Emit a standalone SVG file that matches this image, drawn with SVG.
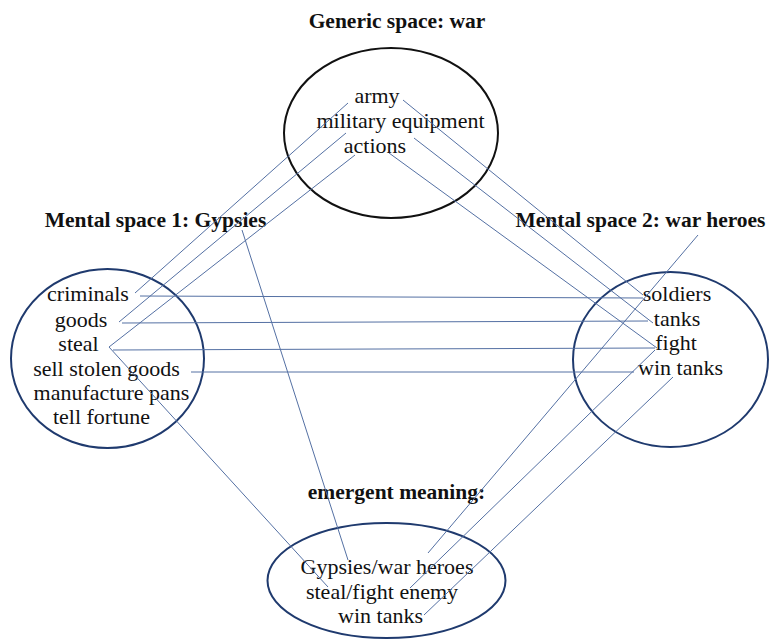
<svg xmlns="http://www.w3.org/2000/svg" width="772" height="639" viewBox="0 0 772 639">
<style>
.t{font-family:"Liberation Serif","Times New Roman",serif;font-size:22px;fill:#111;text-anchor:middle}
.b{font-family:"Liberation Serif","Times New Roman",serif;font-size:21.5px;font-weight:bold;fill:#111;text-anchor:middle}
.e{fill:none;stroke:#1f3a6e;stroke-width:2}
.k{fill:none;stroke:#111;stroke-width:2}
.c line{stroke:#5470a3;stroke-width:1}
</style>
<rect width="772" height="639" fill="#fff"/>
<g id="generic">
<ellipse class="k" cx="391" cy="133" rx="107" ry="85"/>
<text class="b" x="397" y="28">Generic space: war</text>
<text class="t" x="377" y="103">army</text>
<text class="t" x="400.5" y="128">military equipment</text>
<text class="t" x="375" y="153">actions</text>
</g>
<g id="space1">
<ellipse class="e" cx="107.5" cy="358.5" rx="96.5" ry="89.5"/>
<text class="b" x="155.5" y="227">Mental space 1: Gypsies</text>
<text class="t" x="88" y="301">criminals</text>
<text class="t" x="81" y="327">goods</text>
<text class="t" x="78.5" y="351">steal</text>
<text class="t" x="106.5" y="376">sell stolen goods</text>
<text class="t" x="111.5" y="400">manufacture pans</text>
<text class="t" x="101.5" y="424">tell fortune</text>
</g>
<g id="space2">
<ellipse class="e" cx="670.5" cy="359.5" rx="97.5" ry="87.5"/>
<text class="b" x="640.5" y="227">Mental space 2: war heroes</text>
<text class="t" x="677" y="301">soldiers</text>
<text class="t" x="677" y="326">tanks</text>
<text class="t" x="676" y="350">fight</text>
<text class="t" x="680.5" y="375">win tanks</text>
</g>
<g id="emergent">
<ellipse class="e" cx="386.5" cy="580.5" rx="119" ry="57.5"/>
<text class="b" x="396.5" y="499">emergent meaning:</text>
<text class="t" x="387" y="574">Gypsies/war heroes</text>
<text class="t" x="382" y="599">steal/fight enemy</text>
<text class="t" x="380.5" y="623">win tanks</text>
</g>
<g id="connectors" class="c">
<line x1="348" y1="103" x2="135" y2="293"/>
<line x1="346" y1="133" x2="119" y2="322"/>
<line x1="355" y1="155" x2="109" y2="347"/>
<line x1="109" y1="347" x2="328" y2="587"/>
<line x1="242" y1="230" x2="348" y2="560"/>
<line x1="140" y1="296" x2="643" y2="298"/>
<line x1="122" y1="323" x2="648" y2="321"/>
<line x1="113" y1="350" x2="655" y2="348"/>
<line x1="191" y1="372" x2="634" y2="372"/>
<line x1="403" y1="100" x2="643" y2="295"/>
<line x1="414" y1="138" x2="653" y2="323"/>
<line x1="389" y1="153" x2="657" y2="348"/>
<line x1="698" y1="235" x2="428" y2="553"/>
<line x1="655" y1="350" x2="410" y2="588"/>
<line x1="673" y1="377" x2="424" y2="615"/>
</g>
</svg>
